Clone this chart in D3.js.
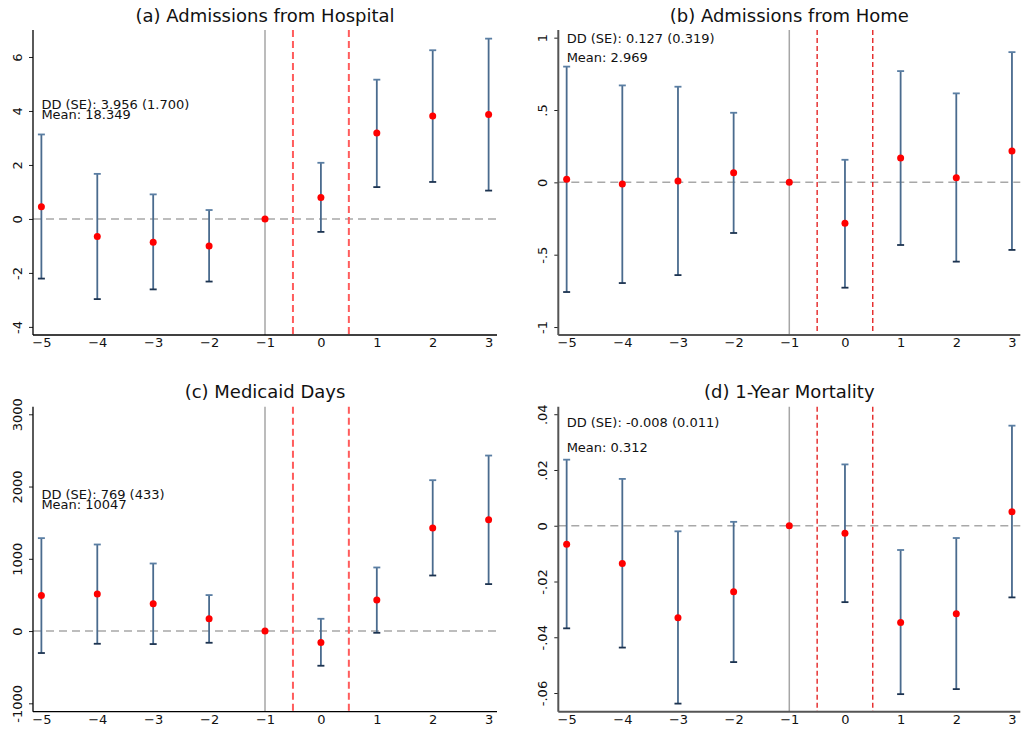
<!DOCTYPE html>
<html>
<head>
<meta charset="utf-8">
<script src="https://cdn.jsdelivr.net/npm/d3@7"></script>
<style>
  html, body { margin: 0; padding: 0; background: #fff; }
  svg { display: block; font-family: "DejaVu Sans", sans-serif; }
</style>
</head>
<body>
<svg id="chart" width="1021" height="730"></svg>
<script>
// Event-time periods relative to the policy change
const periods = [-5, -4, -3, -2, -1, 0, 1, 2, 3];

// (a) Admissions from Hospital: estimates and 95% CI bounds
const hospEst = [0.45, -0.65, -0.86, -1.00, 0, 0.79, 3.18, 3.81, 3.87];
const hospLo  = [-2.21, -2.97, -2.61, -2.32, 0, -0.48, 1.18, 1.37, 1.05];
const hospHi  = [3.13, 1.67, 0.91, 0.33, 0, 2.08, 5.16, 6.25, 6.68];

// (b) Admissions from Home
const homeEst = [0.021, -0.012, 0.009, 0.066, 0, -0.283, 0.168, 0.032, 0.216];
const homeLo  = [-0.758, -0.696, -0.641, -0.350, 0, -0.728, -0.433, -0.548, -0.467];
const homeHi  = [0.800, 0.670, 0.661, 0.481, 0, 0.156, 0.769, 0.615, 0.900];

// (c) Medicaid Days
const medEst = [492, 512, 378, 170, 0, -157, 429, 1425, 1539];
const medLo  = [-304, -176, -180, -162, 0, -480, -24, 769, 650];
const medHi  = [1286, 1198, 935, 498, 0, 170, 880, 2088, 2429];

// (d) 1-Year Mortality
const mortEst = [-0.0066, -0.0135, -0.0330, -0.0237, 0, -0.0027, -0.0347, -0.0316, 0.0050];
const mortLo  = [-0.0368, -0.0437, -0.0638, -0.0489, 0, -0.0274, -0.0604, -0.0586, -0.0257];
const mortHi  = [0.0237, 0.0168, -0.0020, 0.0014, 0, 0.0220, -0.0087, -0.0044, 0.0359];

// Axis ticks and labels
const xTicks = [-5, -4, -3, -2, -1, 0, 1, 2, 3];
const hospTicks = [-4, -2, 0, 2, 4, 6];
const hospTickLabels = ["-4", "-2", "0", "2", "4", "6"];
const homeTicks = [-1, -0.5, 0, 0.5, 1];
const homeTickLabels = ["-1", "-.5", "0", ".5", "1"];
const medTicks = [-1000, 0, 1000, 2000, 3000];
const medTickLabels = ["-1000", "0", "1000", "2000", "3000"];
const mortTicks = [-0.06, -0.04, -0.02, 0, 0.02, 0.04];
const mortTickLabels = ["-.06", "-.04", "-.02", "0", ".02", ".04"];

// Titles and summary statistics
const titles = ["(a) Admissions from Hospital", "(b) Admissions from Home", "(c) Medicaid Days", "(d) 1-Year Mortality"];
const ddText = ["DD (SE): 3.956 (1.700)", "DD (SE): 0.127 (0.319)", "DD (SE): 769 (433)", "DD (SE): -0.008 (0.011)"];
const meanText = ["Mean: 18.349", "Mean: 2.969", "Mean: 10047", "Mean: 0.312"];

// Panel layout and styles
const panels = [
  { est: hospEst, lo: hospLo, hi: hospHi, ticks: hospTicks, labels: hospTickLabels,
    domain: [-4.3, 7.0], left: 33, right: 497, top: 30, bottom: 335,
    textY: [79, 89], axisColor: "#000", axisWidth: 1.3,
    policy: { color: "#ff5c5c", width: 2, dash: "7,4" } },
  { est: homeEst, lo: homeLo, hi: homeHi, ticks: homeTicks, labels: homeTickLabels,
    domain: [-1.055, 1.053], left: 558.3, right: 1020.3, top: 30, bottom: 335,
    textY: [13.3, 32.3], axisColor: "#555", axisWidth: 2,
    policy: { color: "#e00000", width: 1.2, dash: "5,3" } },
  { est: medEst, lo: medLo, hi: medHi, ticks: medTicks, labels: medTickLabels,
    domain: [-1116, 3105], left: 33, right: 497, top: 406.7, bottom: 711.7,
    textY: [92.3, 102.6], axisColor: "#000", axisWidth: 1.3,
    policy: { color: "#ff5c5c", width: 2, dash: "7,4" } },
  { est: mortEst, lo: mortLo, hi: mortHi, ticks: mortTicks, labels: mortTickLabels,
    domain: [-0.0667, 0.0427], left: 558.3, right: 1020.3, top: 406.7, bottom: 711.7,
    textY: [20.6, 45.6], axisColor: "#555", axisWidth: 2,
    policy: { color: "#e00000", width: 1.2, dash: "5,3" } }
];

const svg = d3.select("#chart");

panels.forEach((p, i) => {
  const x = d3.scaleLinear().domain([-5.15, 3.15]).range([p.left, p.right]);
  const y = d3.scaleLinear().domain(p.domain).range([p.bottom, p.top]);
  const g = svg.append("g");

  // title
  g.append("text")
    .attr("x", x(-1)).attr("y", p.top - 8.3)
    .attr("text-anchor", "middle")
    .attr("font-size", 18).attr("fill", "#111")
    .text(titles[i]);

  // reference lines: zero, base period, policy window
  g.append("line")
    .attr("x1", p.left).attr("x2", p.right)
    .attr("y1", y(0)).attr("y2", y(0))
    .attr("stroke", "#a8a8a8").attr("stroke-width", 1.5)
    .attr("stroke-dasharray", "8,5");
  g.append("line")
    .attr("x1", x(-1)).attr("x2", x(-1))
    .attr("y1", p.top).attr("y2", p.bottom)
    .attr("stroke", "#a6a6a6").attr("stroke-width", 1.5);
  [-0.5, 0.5].forEach(v => {
    g.append("line")
      .attr("x1", x(v)).attr("x2", x(v))
      .attr("y1", p.top).attr("y2", p.bottom)
      .attr("stroke", p.policy.color).attr("stroke-width", p.policy.width)
      .attr("stroke-dasharray", p.policy.dash);
  });

  // confidence intervals
  const rows = periods.map((t, k) => ({ t, est: p.est[k], lo: p.lo[k], hi: p.hi[k] }))
    .filter(d => d.hi !== d.lo);
  const bars = g.append("g");
  bars.selectAll("line.stem").data(rows).join("line")
    .attr("class", "stem")
    .attr("x1", d => x(d.t)).attr("x2", d => x(d.t))
    .attr("y1", d => y(d.hi)).attr("y2", d => y(d.lo))
    .attr("stroke", "#4a6b8e").attr("stroke-width", 1.8);
  bars.selectAll("line.capHi").data(rows).join("line")
    .attr("class", "capHi")
    .attr("x1", d => x(d.t) - 3.5).attr("x2", d => x(d.t) + 3.5)
    .attr("y1", d => y(d.hi)).attr("y2", d => y(d.hi))
    .attr("stroke", "#5a7ea3").attr("stroke-width", 1.8);
  bars.selectAll("line.capLo").data(rows).join("line")
    .attr("class", "capLo")
    .attr("x1", d => x(d.t) - 3.5).attr("x2", d => x(d.t) + 3.5)
    .attr("y1", d => y(d.lo)).attr("y2", d => y(d.lo))
    .attr("stroke", "#1c3350").attr("stroke-width", 1.8);

  // point estimates
  g.append("g").selectAll("circle")
    .data(periods.map((t, k) => ({ t, est: p.est[k] })))
    .join("circle")
    .attr("cx", d => x(d.t)).attr("cy", d => y(d.est))
    .attr("r", 3.5).attr("fill", "#ff0000");

  // y axis
  const yAxis = g.append("g")
    .attr("transform", `translate(${p.left},0)`)
    .call(d3.axisLeft(y).tickValues(p.ticks)
      .tickFormat((d, k) => p.labels[k]).tickSize(4).tickSizeOuter(0));
  yAxis.select(".domain").remove();
  yAxis.selectAll(".tick line").attr("stroke", "#222");
  yAxis.selectAll(".tick text")
    .attr("font-size", 13).attr("fill", "#111")
    .attr("font-family", "DejaVu Sans, sans-serif")
    .attr("transform", "rotate(-90)")
    .attr("x", 0).attr("y", -11).attr("dy", 0)
    .attr("text-anchor", "middle");
  g.append("line")
    .attr("x1", p.left).attr("x2", p.left)
    .attr("y1", p.top).attr("y2", p.bottom)
    .attr("stroke", p.axisColor).attr("stroke-width", p.axisWidth);

  // x axis
  const xAxis = g.append("g")
    .attr("transform", `translate(0,${p.bottom})`)
    .call(d3.axisBottom(x).tickValues(xTicks).tickFormat(d3.format("d"))
      .tickSize(0).tickPadding(3));
  xAxis.select(".domain").remove();
  xAxis.selectAll(".tick text")
    .attr("font-size", 13).attr("fill", "#111")
    .attr("font-family", "DejaVu Sans, sans-serif");
  g.append("line")
    .attr("x1", p.left).attr("x2", p.right)
    .attr("y1", p.bottom).attr("y2", p.bottom)
    .attr("stroke", p.axisColor).attr("stroke-width", p.axisWidth);

  // summary statistics
  g.append("text")
    .attr("x", x(-5)).attr("y", p.top + p.textY[0])
    .attr("font-size", 13).attr("fill", "#111")
    .text(ddText[i]);
  g.append("text")
    .attr("x", x(-5)).attr("y", p.top + p.textY[1])
    .attr("font-size", 13).attr("fill", "#111")
    .text(meanText[i]);
});
</script>
</body>
</html>
